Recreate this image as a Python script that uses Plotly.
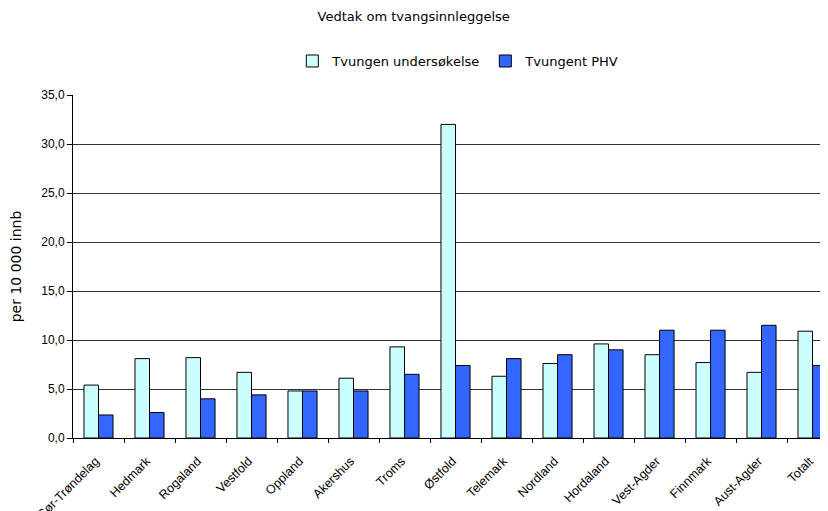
import plotly.graph_objects as go

categories = ["Sør-Trøndelag", "Hedmark", "Rogaland", "Vestfold", "Oppland", "Akershus",
              "Troms", "Østfold", "Telemark", "Nordland", "Hordaland", "Vest-Agder",
              "Finnmark", "Aust-Agder", "Totalt"]
undersokelse = [5.4, 8.1, 8.2, 6.7, 4.8, 6.1, 9.3, 32.0, 6.3, 7.6, 9.6, 8.5, 7.7, 6.7, 10.9]
phv = [2.35, 2.6, 4.0, 4.4, 4.8, 4.8, 6.5, 7.4, 8.1, 8.5, 9.0, 11.0, 11.0, 11.5, 7.4]
series_names = ["Tvungen undersøkelse", "Tvungent PHV"]
y_ticks = [0, 5, 10, 15, 20, 25, 30, 35]

font_arial = "Liberation Sans, Arial, sans-serif"
font_wide = "DejaVu Sans, Verdana, sans-serif"

fig = go.Figure()
fig.add_trace(go.Bar(x=categories, y=undersokelse, name=series_names[0],
                     marker=dict(color="#CCFFFF", line=dict(color="black", width=1))))
fig.add_trace(go.Bar(x=categories, y=phv, name=series_names[1],
                     marker=dict(color="#3366FF", line=dict(color="black", width=1))))

fig.update_layout(
    width=828, height=511,
    margin=dict(l=65, r=0, t=87, b=81, autoexpand=False),
    paper_bgcolor="white", plot_bgcolor="white",
    separators=", ",
    barmode="group", bargap=0.43, bargroupgap=0,
    font=dict(family=font_arial, size=12, color="black"),
    title=dict(text="Vedtak om tvangsinnleggelse", x=0.49, xanchor="center", xref="container",
               y=0.984, yanchor="middle", yref="container",
               font=dict(size=13, family=font_wide)),
    legend=dict(orientation="h", x=0.505, xanchor="center", y=1.099, yanchor="middle",
                font=dict(size=13, family=font_wide), itemwidth=30, tracegroupgap=0),
    xaxis=dict(range=[-0.5, 14.46], showline=True, linecolor="black", linewidth=1,
               ticks="outside", tickson="boundaries", ticklen=4, tickcolor="black",
               tickangle=-45, tickfont=dict(size=12.5), showgrid=False, automargin=False,
               ticklabelstandoff=10, ticklabelshift=-3),
    yaxis=dict(range=[0, 35], tickvals=y_ticks, tickformat=".1f",
               showline=True, linecolor="black", linewidth=1,
               ticks="outside", ticklen=5, tickcolor="black",
               showgrid=True, gridcolor="#333333", gridwidth=1,
               tickfont=dict(size=12), automargin=False,
               title=dict(text="per 10 000 innb", font=dict(size=14, family=font_wide),
                          standoff=22)),
)

fig.write_html("out.html")
